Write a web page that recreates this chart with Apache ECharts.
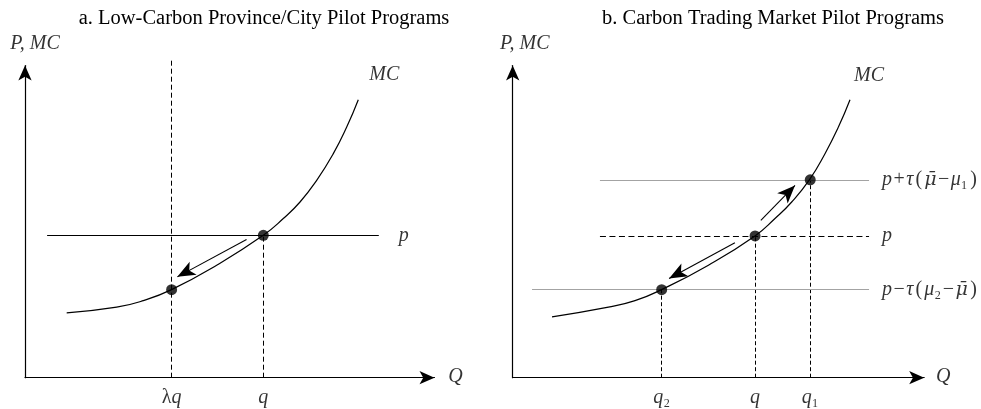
<!DOCTYPE html>
<html>
<head>
<meta charset="utf-8">
<script src="https://cdn.jsdelivr.net/npm/echarts@6/dist/echarts.min.js"></script>
<style>html,body{margin:0;padding:0;background:#fff}#c{width:981px;height:409px}</style>
</head>
<body>
<div id="c"></div>
<script>
// ---------- data (axis units 0..100 on both axes of each panel) ----------
const titles = ['a. Low-Carbon Province/City Pilot Programs', 'b. Carbon Trading Market Pilot Programs'];

// Panel a
const curveA = [[10.18,20.79],[22.39,22.61],[28.89,24.69],[35.78,28.21],[46.81,36.04],[58.19,45.63],
                [63.08,50.98],[67.16,56.28],[71.23,63.22],[75.29,71.76],[78.56,80.27],[81.39,89.03]];
const priceA = 45.6;                 // p
const priceLineA = [5.4, 86.4];      // extent of the p line
const qValuesA = [35.8, 58.2];       // λq, q
const qTopsA = [102.1, 45.6];        // height where each dashed guide ends
const qTickLabelsA = ['{n|λ}{i|q}', '{i|q}'];
const dotsA = [[58.2,45.6],[35.8,28.2]];
const arrowsA = [[[54.1,44.3],[37.2,32.3]]];

// Panel b
const curveB = [[9.55,19.51],[23.26,22.61],[29.72,24.69],[36.16,28.21],[47.56,36.04],[58.88,45.41],
                [63.74,50.98],[67.80,56.28],[72.13,63.45],[75.89,71.76],[79.15,80.27],[81.97,89.03]];
const priceLevelsB = [63.4, 45.4, 28.2];                 // p+τ(...), p, p−τ(...)
const priceLineStartB = [21.2, 21.2, 4.7];
const priceLineEndB = 86.6;
const priceLabelsB = ['{i|p}{o|+}{i|τ}{l|(}{b|μ̄}{o|−}{i|μ}{s|₁}{r|)}',
                      '{i|p}',
                      '{i|p}{o|−}{i|τ}{l|(}{i|μ}{s|₂}{o|−}{b|μ̄}{r|)}'];
const qValuesB = [36.2, 58.9, 72.3];                     // q2, q, q1
const qTopsB = [28.2, 45.4, 63.4];
const qTickLabelsB = ['{i|q}{s|₂}', '{i|q}', '{i|q}{s|₁}'];
const dotsB = [[36.2,28.2],[58.9,45.4],[72.3,63.4]];
const arrowsB = [[[60.3,50.4],[68.6,61.6]], [[54.0,43.2],[38.0,31.8]]];

// ---------- style ----------
const SERIF = '"Liberation Serif", "DejaVu Serif", "Times New Roman", serif';
const INK = '#000000';
const GREY = '#a3a3a3';
const FS = 20;
const base = {fontFamily: SERIF, fontSize: FS, color: INK};
const rich = {
  i: Object.assign({}, base, {fontStyle: 'italic'}),
  n: Object.assign({}, base, {fontStyle: 'normal'}),
  s: Object.assign({}, base, {fontStyle: 'normal'}),
  o: Object.assign({}, base, {fontStyle: 'normal', padding: [0, 1.5, 0, 1.5]}),
  l: Object.assign({}, base, {fontStyle: 'normal', padding: [0, 2, 0, 2]}),
  r: Object.assign({}, base, {fontStyle: 'normal', padding: [0, 0, 0, 2.5]}),
  b: Object.assign({}, base, {fontStyle: 'italic', fontFamily: '"DejaVu Serif", serif', fontSize: 19})
};

function axis(idx) {
  return {
    type: 'value', gridIndex: idx, min: 0, max: 100,
    axisLine: {show: true, onZero: false, symbol: ['none', 'arrow'], symbolSize: [10, 15],
               lineStyle: {color: INK, width: 1.2}},
    axisTick: {show: false}, axisLabel: {show: false}, splitLine: {show: false}
  };
}

function labelSeries(idx, pts, texts, offset, align) {
  return {
    type: 'scatter', xAxisIndex: idx, yAxisIndex: idx, symbolSize: 0, clip: false, silent: true, z: 10,
    data: pts.map((p, k) => ({value: p, name: texts[k]})),
    label: {show: true, position: 'inside', offset: offset, align: align, verticalAlign: 'middle',
            formatter: (d) => d.name, rich: rich}
  };
}

function segs(idx, list, lineStyle, extra) {
  return Object.assign({type: 'lines', coordinateSystem: 'cartesian2d', xAxisIndex: idx, yAxisIndex: idx,
    clip: false, silent: true, data: list.map(c => ({coords: c})),
    lineStyle: Object.assign({opacity: 1}, lineStyle), z: 2}, extra || {});
}

function commonSeries(idx, curve, dots, arrows, vLines, vDash) {
  return [
    {type: 'line', xAxisIndex: idx, yAxisIndex: idx, data: curve, smooth: 0.5,
     showSymbol: false, clip: false, silent: true, lineStyle: {color: INK, width: 1.2}, z: 3},
    segs(idx, vLines, {color: INK, width: 1, type: vDash}),
    segs(idx, arrows, {color: INK, width: 1.1}, {symbol: ['none', 'arrow'], symbolSize: [1, [11, 18]], z: 4}),
    {type: 'scatter', xAxisIndex: idx, yAxisIndex: idx, data: dots, symbolSize: 11, clip: false, silent: true,
     itemStyle: {color: '#000'}, z: 5}
  ];
}

const series = [];
// Panel a
series.push(...commonSeries(0, curveA, dotsA, arrowsA,
  qValuesA.map((q, k) => [[q, 0], [q, qTopsA[k]]]), [5, 3]));
series.push(segs(0, [[[priceLineA[0], priceA], [priceLineA[1], priceA]]], {color: INK, width: 1.1}));
series.push(labelSeries(0, qValuesA.map(q => [q, 0]), qTickLabelsA, [0, 20], 'center'));
series.push(labelSeries(0, [[priceLineA[1], priceA]], ['{i|p}'], [25, 0], 'center'));
series.push(labelSeries(0, [curveA[curveA.length - 1]], ['{i|MC}'], [26, -25], 'center'));
series.push(labelSeries(0, [[0, 100]], ['{i|P, MC}'], [10, -22], 'center'));
series.push(labelSeries(0, [[100, 0]], ['{i|Q}'], [21, -1], 'center'));

// Panel b
series.push(...commonSeries(1, curveB, dotsB, arrowsB,
  qValuesB.map((q, k) => [[q, 0], [q, qTopsB[k]]]), [4, 2.5]));
series.push(segs(1, [0, 2].map(k => [[priceLineStartB[k], priceLevelsB[k]], [priceLineEndB, priceLevelsB[k]]]),
  {color: GREY, width: 1}));
series.push(segs(1, [[[priceLineStartB[1], priceLevelsB[1]], [priceLineEndB, priceLevelsB[1]]]],
  {color: INK, width: 1, type: [6, 3.5]}));
series.push(labelSeries(1, qValuesB.map(q => [q, 0]), qTickLabelsB, [0, 20], 'center'));
series.push(labelSeries(1, priceLevelsB.map(v => [priceLineEndB, v]), priceLabelsB, [13, 0], 'left'));
series.push(labelSeries(1, [curveB[curveB.length - 1]], ['{i|MC}'], [19, -24], 'center'));
series.push(labelSeries(1, [[0, 100]], ['{i|P, MC}'], [12, -22], 'center'));
series.push(labelSeries(1, [[100, 0]], ['{i|Q}'], [19, -1], 'center'));

const option = {
  animation: false,
  backgroundColor: '#fff',
  title: [
    {text: titles[0], left: 259, top: 3, textAlign: 'center',
     textStyle: {fontFamily: SERIF, fontWeight: 'normal', fontSize: 20.5, color: INK}},
    {text: titles[1], left: 768, top: 3, textAlign: 'center',
     textStyle: {fontFamily: SERIF, fontWeight: 'normal', fontSize: 20.5, color: INK}}
  ],
  grid: [
    {left: 25, top: 65.5, width: 409.5, height: 312.2, outerBoundsMode: 'none'},
    {left: 512.7, top: 65.5, width: 411.5, height: 312.2, outerBoundsMode: 'none'}
  ],
  xAxis: [axis(0), axis(1)],
  yAxis: [axis(0), axis(1)],
  series: series
};

const chart = echarts.init(document.getElementById('c'), null, {renderer: 'canvas'});
chart.setOption(option);
</script>
</body>
</html>
